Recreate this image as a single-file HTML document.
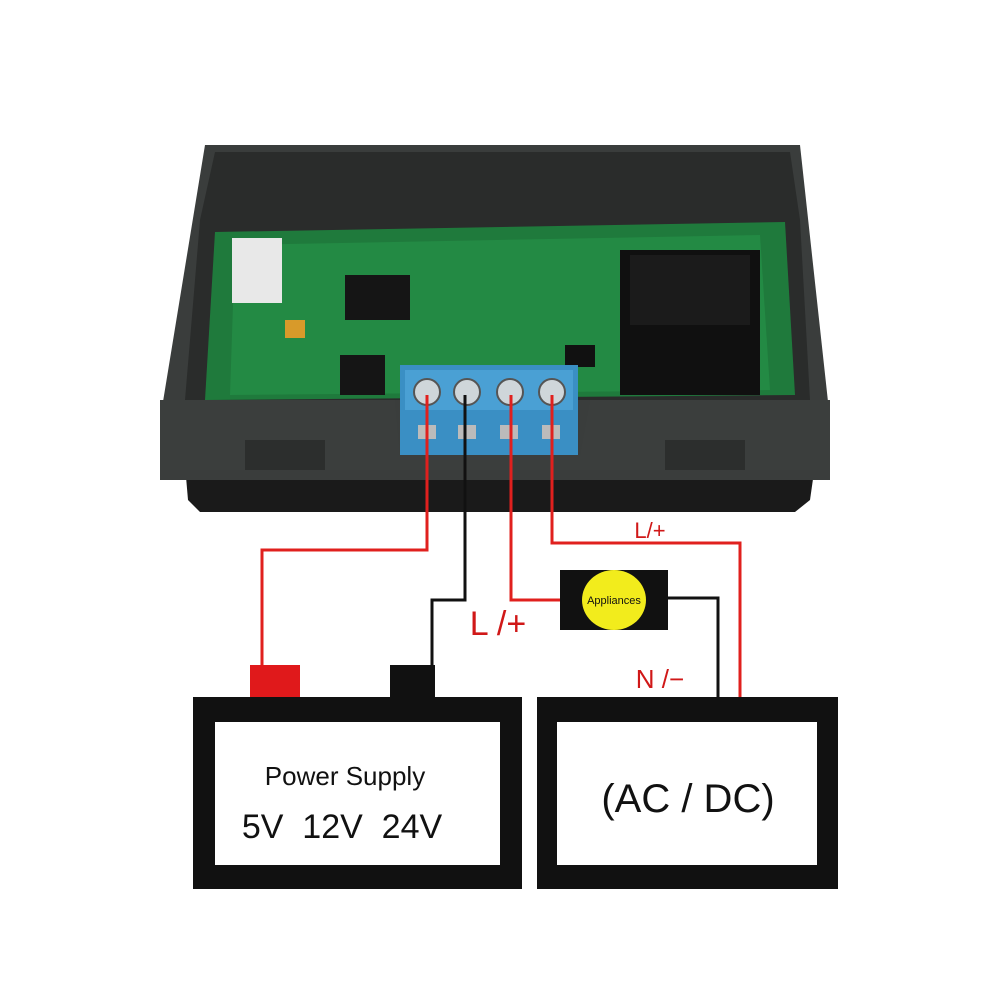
<!DOCTYPE html>
<html><head><style>
html,body{margin:0;padding:0;background:#fff;}
svg{display:block;}
</style></head><body>
<svg width="1000" height="1000" viewBox="0 0 1000 1000" xmlns="http://www.w3.org/2000/svg">
<rect width="1000" height="1000" fill="#fff"/>
<!-- enclosure base -->
<polygon points="185,465 815,465 810,500 795,512 200,512 188,500" fill="#1a1a1a"/>
<!-- enclosure body -->
<polygon points="205,145 800,145 830,420 830,480 160,480 160,420" fill="#3a3d3c"/>
<polygon points="215,152 790,152 800,220 810,400 185,400 200,220" fill="#2a2c2b"/>
<!-- PCB -->
<polygon points="215,232 785,222 795,395 205,400" fill="#1f7a3c"/>
<polygon points="235,245 760,235 770,390 230,395" fill="#238a44"/>
<!-- connector white -->
<rect x="232" y="238" width="50" height="65" fill="#e8e8e8"/>
<!-- chips -->
<rect x="345" y="275" width="65" height="45" fill="#151515"/>
<rect x="340" y="355" width="45" height="40" fill="#151515"/>
<rect x="285" y="320" width="20" height="18" fill="#d89a2a"/>
<rect x="565" y="345" width="30" height="22" fill="#111"/>
<!-- relay -->
<rect x="620" y="250" width="140" height="145" fill="#101010"/>
<rect x="630" y="255" width="120" height="70" fill="#1b1b1b"/>
<!-- front lower walls -->
<polygon points="160,400 395,400 400,455 580,455 590,400 830,400 830,470 160,470" fill="#3b3e3d"/>
<rect x="245" y="440" width="80" height="30" fill="#2c2e2d"/>
<rect x="665" y="440" width="80" height="30" fill="#2c2e2d"/>
<!-- terminal block -->
<rect x="400" y="365" width="178" height="90" fill="#3a8fc4"/>
<rect x="405" y="370" width="168" height="40" fill="#4aa0d4"/>
<g fill="#cfd6da" stroke="#555" stroke-width="2">
<circle cx="427" cy="392" r="13"/><circle cx="467" cy="392" r="13"/><circle cx="510" cy="392" r="13"/><circle cx="552" cy="392" r="13"/>
</g>
<g fill="#bbb"><rect x="418" y="425" width="18" height="14"/><rect x="458" y="425" width="18" height="14"/><rect x="500" y="425" width="18" height="14"/><rect x="542" y="425" width="18" height="14"/></g>
<!-- wires -->
<g fill="none" stroke-width="3">
<polyline points="427,395 427,550 262,550 262,668" stroke="#e0201e"/>
<polyline points="465,395 465,600 432,600 432,668" stroke="#111"/>
<polyline points="511,395 511,600 562,600" stroke="#e0201e"/>
<polyline points="552,395 552,543 740,543 740,700" stroke="#e0201e"/>
<polyline points="666,598 718,598 718,700" stroke="#111"/>
</g>
<!-- appliance -->
<rect x="560" y="570" width="108" height="60" fill="#111"/>
<ellipse cx="614" cy="600" rx="32" ry="30" fill="#f2ec1c"/>
<text x="614" y="604" font-family="Liberation Sans,sans-serif" font-size="11" text-anchor="middle" fill="#111">Appliances</text>
<!-- terminals -->
<rect x="250" y="665" width="50" height="33" fill="#e0191b"/>
<rect x="390" y="665" width="45" height="35" fill="#111"/>
<!-- boxes -->
<rect x="193" y="697" width="329" height="192" fill="#111"/>
<rect x="215" y="722" width="285" height="143" fill="#fff"/>
<rect x="537" y="697" width="301" height="192" fill="#111"/>
<rect x="557" y="722" width="260" height="143" fill="#fff"/>
<g font-family="Liberation Sans,sans-serif" fill="#111" text-anchor="middle">
<text x="345" y="785" font-size="26">Power Supply</text>
<text x="342" y="838" font-size="34">5V&#160; 12V&#160; 24V</text>
<text x="688" y="812" font-size="40">(AC / DC)</text>
</g>
<g font-family="Liberation Sans,sans-serif" fill="#d01818" text-anchor="middle">
<text x="650" y="538" font-size="22">L/+</text>
<text x="498" y="635" font-size="34">L /+</text>
<text x="660" y="688" font-size="26">N /−</text>
</g>
</svg>
</body></html>
